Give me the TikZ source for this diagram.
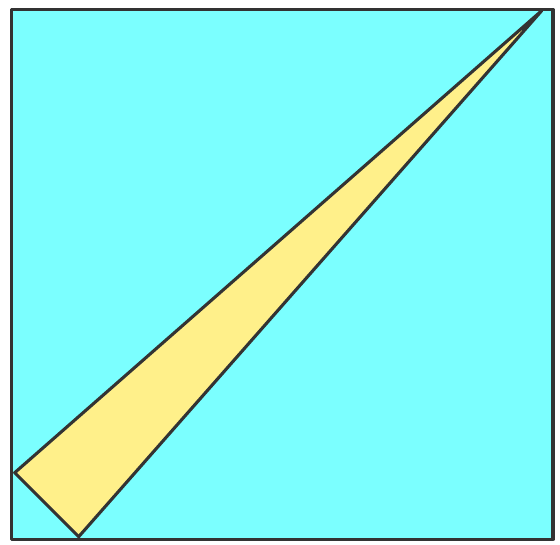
\documentclass[tikz,border=0pt]{standalone}
\definecolor{sheet}{HTML}{7BFFFF}
\definecolor{wedge}{HTML}{FFF08A}
\definecolor{edge}{HTML}{333333}
\begin{document}
\begin{tikzpicture}[x=0.025cm, y=-0.025cm, line join=round]
\useasboundingbox (0,0) rectangle (560,545);
\coordinate (tip) at (541.7,10.7); \coordinate (left) at (14.7,472.7); \coordinate (foot) at (78.7,536.7);
\draw[line width=2.2pt, draw=edge, fill=sheet] (11.5,9.5) rectangle (553,539.5);
\draw[line width=2.2pt, draw=edge, fill=wedge] (tip) -- (left) -- (foot) -- cycle;
\end{tikzpicture}
\end{document}
